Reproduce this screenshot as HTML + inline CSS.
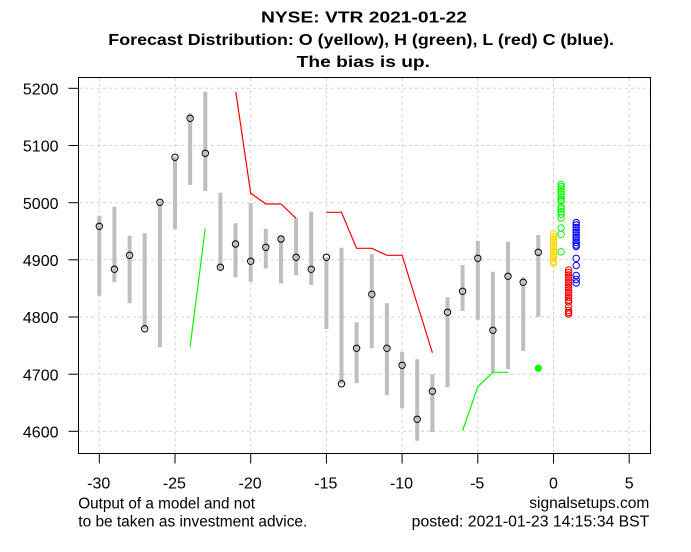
<!DOCTYPE html>
<html>
<head>
<meta charset="utf-8">
<style>
html,body{margin:0;padding:0;background:#fff;}
svg{display:block;}
text{font-family:"Liberation Sans",Arial,sans-serif;fill:#000;}
</style>
</head>
<body>
<svg width="691" height="552" viewBox="0 0 691 552" xmlns="http://www.w3.org/2000/svg">
<rect x="0" y="0" width="691" height="552" fill="#fff"/>

<!-- title -->
<g font-weight="bold" font-size="16" text-anchor="start">
<text x="261" y="22.7" textLength="206" lengthAdjust="spacingAndGlyphs">NYSE: VTR 2021-01-22</text>
<text x="108.3" y="44.9" textLength="505.7" lengthAdjust="spacingAndGlyphs">Forecast Distribution: O (yellow), H (green), L (red) C (blue).</text>
<text x="296.7" y="66.9" textLength="133.3" lengthAdjust="spacingAndGlyphs">The bias is up.</text>
</g>

<!-- grid -->
<g stroke="#d3d3d3" stroke-width="1" stroke-dasharray="3,3" fill="none">
<line x1="79" x2="650" y1="88.3" y2="88.3"/>
<line x1="79" x2="650" y1="145.5" y2="145.5"/>
<line x1="79" x2="650" y1="202.7" y2="202.7"/>
<line x1="79" x2="650" y1="259.8" y2="259.8"/>
<line x1="79" x2="650" y1="317" y2="317"/>
<line x1="79" x2="650" y1="374.2" y2="374.2"/>
<line x1="79" x2="650" y1="431.3" y2="431.3"/>
<line y1="78" y2="453" x1="99.3" x2="99.3"/>
<line y1="78" y2="453" x1="175" x2="175"/>
<line y1="78" y2="453" x1="250.7" x2="250.7"/>
<line y1="78" y2="453" x1="326.4" x2="326.4"/>
<line y1="78" y2="453" x1="402.1" x2="402.1"/>
<line y1="78" y2="453" x1="477.8" x2="477.8"/>
<line y1="78" y2="453" x1="553.5" x2="553.5"/>
<line y1="78" y2="453" x1="629.2" x2="629.2"/>
</g>

<!-- gray bars -->
<g stroke="#bebebe" stroke-width="4" fill="none">
<line x1="99.3" x2="99.3" y1="215.7" y2="295.7"/>
<line x1="114.4" x2="114.4" y1="206.7" y2="282.3"/>
<line x1="129.6" x2="129.6" y1="235.7" y2="303.3"/>
<line x1="144.7" x2="144.7" y1="233.3" y2="329"/>
<line x1="159.9" x2="159.9" y1="200.5" y2="347.3"/>
<line x1="175" x2="175" y1="156.7" y2="229"/>
<line x1="190.1" x2="190.1" y1="113.3" y2="185"/>
<line x1="205.3" x2="205.3" y1="91.7" y2="191"/>
<line x1="220.4" x2="220.4" y1="192.7" y2="270"/>
<line x1="235.5" x2="235.5" y1="223.3" y2="277.3"/>
<line x1="250.7" x2="250.7" y1="203.3" y2="281.7"/>
<line x1="265.8" x2="265.8" y1="228.7" y2="268.3"/>
<line x1="281" x2="281" y1="236" y2="283.3"/>
<line x1="296.1" x2="296.1" y1="218.3" y2="275.3"/>
<line x1="311.2" x2="311.2" y1="211.7" y2="285"/>
<line x1="326.4" x2="326.4" y1="257.3" y2="329"/>
<line x1="341.5" x2="341.5" y1="247.7" y2="383.7"/>
<line x1="356.6" x2="356.6" y1="322.3" y2="383.3"/>
<line x1="371.8" x2="371.8" y1="254.3" y2="348.3"/>
<line x1="386.9" x2="386.9" y1="303.3" y2="395.3"/>
<line x1="402.1" x2="402.1" y1="351.7" y2="408.3"/>
<line x1="417.2" x2="417.2" y1="359.3" y2="440.7"/>
<line x1="432.4" x2="432.4" y1="374.3" y2="432"/>
<line x1="447.5" x2="447.5" y1="297.3" y2="387.3"/>
<line x1="462.6" x2="462.6" y1="265" y2="311"/>
<line x1="477.8" x2="477.8" y1="241" y2="319.7"/>
<line x1="492.9" x2="492.9" y1="271.7" y2="372.3"/>
<line x1="508" x2="508" y1="241.7" y2="369"/>
<line x1="523.2" x2="523.2" y1="277.3" y2="351"/>
<line x1="538.3" x2="538.3" y1="235" y2="316.7"/>
</g>

<!-- red line -->
<g stroke="#ff0000" stroke-width="1.2" fill="none">
<polyline points="235.8,92 250.7,193.3 265.8,204 281,204 296.1,218.3"/>
<polyline points="326.4,212.3 341.5,212.3 356.6,248.3 371.8,248.3 386.9,255.3 402.1,255.3 417.2,304 432.4,352.7"/>
</g>
<!-- green line -->
<g stroke="#00ff00" stroke-width="1.2" fill="none">
<polyline points="190.1,346.7 205.3,228.3"/>
<polyline points="462.6,430.7 477.8,386.7 492.9,372.3 508,372.3"/>
</g>

<!-- close circles -->
<g stroke="#000" stroke-width="1" fill="none">
<circle cx="99.3" cy="226.3" r="3.2"/>
<circle cx="114.4" cy="269.3" r="3.2"/>
<circle cx="129.6" cy="255.3" r="3.2"/>
<circle cx="144.7" cy="328.7" r="3.2"/>
<circle cx="159.9" cy="202.3" r="3.2"/>
<circle cx="175" cy="157.3" r="3.2"/>
<circle cx="190.1" cy="118.3" r="3.2"/>
<circle cx="205.3" cy="153.3" r="3.2"/>
<circle cx="220.4" cy="267.3" r="3.2"/>
<circle cx="235.5" cy="244" r="3.2"/>
<circle cx="250.7" cy="261.3" r="3.2"/>
<circle cx="265.8" cy="247.3" r="3.2"/>
<circle cx="281" cy="239" r="3.2"/>
<circle cx="296.1" cy="257.3" r="3.2"/>
<circle cx="311.2" cy="269.3" r="3.2"/>
<circle cx="326.4" cy="257.3" r="3.2"/>
<circle cx="341.5" cy="383.7" r="3.2"/>
<circle cx="356.6" cy="348.3" r="3.2"/>
<circle cx="371.8" cy="294.3" r="3.2"/>
<circle cx="386.9" cy="348.3" r="3.2"/>
<circle cx="402.1" cy="365.3" r="3.2"/>
<circle cx="417.2" cy="419.3" r="3.2"/>
<circle cx="432.4" cy="391.3" r="3.2"/>
<circle cx="447.5" cy="312.3" r="3.2"/>
<circle cx="462.6" cy="291.3" r="3.2"/>
<circle cx="477.8" cy="258.3" r="3.2"/>
<circle cx="492.9" cy="330.3" r="3.2"/>
<circle cx="508" cy="276.3" r="3.2"/>
<circle cx="523.2" cy="282.3" r="3.2"/>
<circle cx="538.3" cy="252.3" r="3.2"/>
</g>

<circle cx="538.3" cy="368.3" r="3.6" fill="#00ff00"/>

<!-- forecast: yellow (open) -->
<g stroke="#ffd700" stroke-width="1" fill="none">
<circle cx="553.5" cy="234" r="3.2"/><circle cx="553.5" cy="236.5" r="3.2"/><circle cx="553.5" cy="239" r="3.2"/>
<circle cx="553.5" cy="241.5" r="3.2"/><circle cx="553.5" cy="244" r="3.2"/><circle cx="553.5" cy="246.5" r="3.2"/>
<circle cx="553.5" cy="249" r="3.2"/><circle cx="553.5" cy="251.5" r="3.2"/><circle cx="553.5" cy="254" r="3.2"/>
<circle cx="553.5" cy="256.5" r="3.2"/><circle cx="553.5" cy="259" r="3.2"/><circle cx="553.5" cy="261.5" r="3.2"/>
<circle cx="553.5" cy="263.5" r="3.2"/>
</g>
<!-- green (high) -->
<g stroke="#00ff00" stroke-width="1" fill="none">
<circle cx="561.1" cy="184.3" r="3.2"/><circle cx="561.1" cy="186.7" r="3.2"/><circle cx="561.1" cy="189" r="3.2"/>
<circle cx="561.1" cy="191.7" r="3.2"/><circle cx="561.1" cy="194.3" r="3.2"/><circle cx="561.1" cy="197" r="3.2"/>
<circle cx="561.1" cy="199.3" r="3.2"/><circle cx="561.1" cy="201.5" r="3.2"/>
<circle cx="561.1" cy="206.7" r="3.2"/><circle cx="561.1" cy="209" r="3.2"/><circle cx="561.1" cy="211.7" r="3.2"/>
<circle cx="561.1" cy="214.3" r="3.2"/><circle cx="561.1" cy="218" r="3.2"/>
<circle cx="561.1" cy="228" r="3.2"/><circle cx="561.1" cy="234.3" r="3.2"/>
<circle cx="561.1" cy="251.7" r="3.2"/>
</g>
<!-- red (low) -->
<g stroke="#ff0000" stroke-width="1" fill="none">
<circle cx="568.6" cy="270" r="3.2"/><circle cx="568.6" cy="272.5" r="3.2"/><circle cx="568.6" cy="275" r="3.2"/>
<circle cx="568.6" cy="277.5" r="3.2"/><circle cx="568.6" cy="280" r="3.2"/><circle cx="568.6" cy="282.5" r="3.2"/>
<circle cx="568.6" cy="285" r="3.2"/><circle cx="568.6" cy="287.5" r="3.2"/><circle cx="568.6" cy="290" r="3.2"/>
<circle cx="568.6" cy="292.5" r="3.2"/><circle cx="568.6" cy="295" r="3.2"/><circle cx="568.6" cy="297.5" r="3.2"/>
<circle cx="568.6" cy="300" r="3.2"/><circle cx="568.6" cy="302" r="3.2"/>
<circle cx="568.6" cy="306.7" r="3.2"/><circle cx="568.6" cy="310.5" r="3.2"/><circle cx="568.6" cy="312.5" r="3.2"/>
<circle cx="568.6" cy="314" r="3.2"/>
</g>
<!-- blue (close) -->
<g stroke="#0000ff" stroke-width="1" fill="none">
<circle cx="576.2" cy="222.5" r="3.2"/><circle cx="576.2" cy="225" r="3.2"/><circle cx="576.2" cy="227.5" r="3.2"/>
<circle cx="576.2" cy="230" r="3.2"/><circle cx="576.2" cy="232.5" r="3.2"/><circle cx="576.2" cy="235" r="3.2"/>
<circle cx="576.2" cy="237.5" r="3.2"/><circle cx="576.2" cy="240" r="3.2"/><circle cx="576.2" cy="242.5" r="3.2"/>
<circle cx="576.2" cy="245" r="3.2"/><circle cx="576.2" cy="246.5" r="3.2"/>
<circle cx="576.2" cy="258.3" r="3.2"/><circle cx="576.2" cy="265.5" r="3.2"/>
<circle cx="576.2" cy="275.5" r="3.2"/><circle cx="576.2" cy="279.5" r="3.2"/><circle cx="576.2" cy="283" r="3.2"/>
</g>

<!-- box -->
<rect x="78.5" y="77.5" width="572" height="376" fill="none" stroke="#000" stroke-width="1"/>

<!-- y ticks -->
<g stroke="#000" stroke-width="1">
<line x1="68.5" x2="78.5" y1="88.3" y2="88.3"/>
<line x1="68.5" x2="78.5" y1="145.5" y2="145.5"/>
<line x1="68.5" x2="78.5" y1="202.7" y2="202.7"/>
<line x1="68.5" x2="78.5" y1="259.8" y2="259.8"/>
<line x1="68.5" x2="78.5" y1="317" y2="317"/>
<line x1="68.5" x2="78.5" y1="374.2" y2="374.2"/>
<line x1="68.5" x2="78.5" y1="431.3" y2="431.3"/>
<line y1="453.5" y2="463.5" x1="99.3" x2="99.3"/>
<line y1="453.5" y2="463.5" x1="175" x2="175"/>
<line y1="453.5" y2="463.5" x1="250.7" x2="250.7"/>
<line y1="453.5" y2="463.5" x1="326.4" x2="326.4"/>
<line y1="453.5" y2="463.5" x1="402.1" x2="402.1"/>
<line y1="453.5" y2="463.5" x1="477.8" x2="477.8"/>
<line y1="453.5" y2="463.5" x1="553.5" x2="553.5"/>
<line y1="453.5" y2="463.5" x1="629.2" x2="629.2"/>
</g>

<g font-size="16" text-anchor="end">
<text x="58.5" y="94.5">5200</text>
<text x="58.5" y="151.7">5100</text>
<text x="58.5" y="208.9">5000</text>
<text x="58.5" y="266">4900</text>
<text x="58.5" y="323.2">4800</text>
<text x="58.5" y="380.4">4700</text>
<text x="58.5" y="437.5">4600</text>
</g>

<g font-size="16" text-anchor="middle">
<text x="98.7" y="488.7">-30</text>
<text x="174.4" y="488.7">-25</text>
<text x="250.1" y="488.7">-20</text>
<text x="325.8" y="488.7">-15</text>
<text x="401.5" y="488.7">-10</text>
<text x="477.2" y="488.7">-5</text>
<text x="553.5" y="488.7">0</text>
<text x="629.2" y="488.7">5</text>
</g>

<!-- footnotes -->
<g font-size="15.5">
<text x="78.3" y="508.3" textLength="176.7" lengthAdjust="spacingAndGlyphs">Output of a model and not</text>
<text x="78.3" y="526.7" textLength="229" lengthAdjust="spacingAndGlyphs">to be taken as investment advice.</text>
<text x="529.3" y="507.8" textLength="120" lengthAdjust="spacingAndGlyphs">signalsetups.com</text>
<text x="411.7" y="526.7" textLength="237.6" lengthAdjust="spacingAndGlyphs">posted: 2021-01-23 14:15:34 BST</text>
</g>
</svg>
</body>
</html>
